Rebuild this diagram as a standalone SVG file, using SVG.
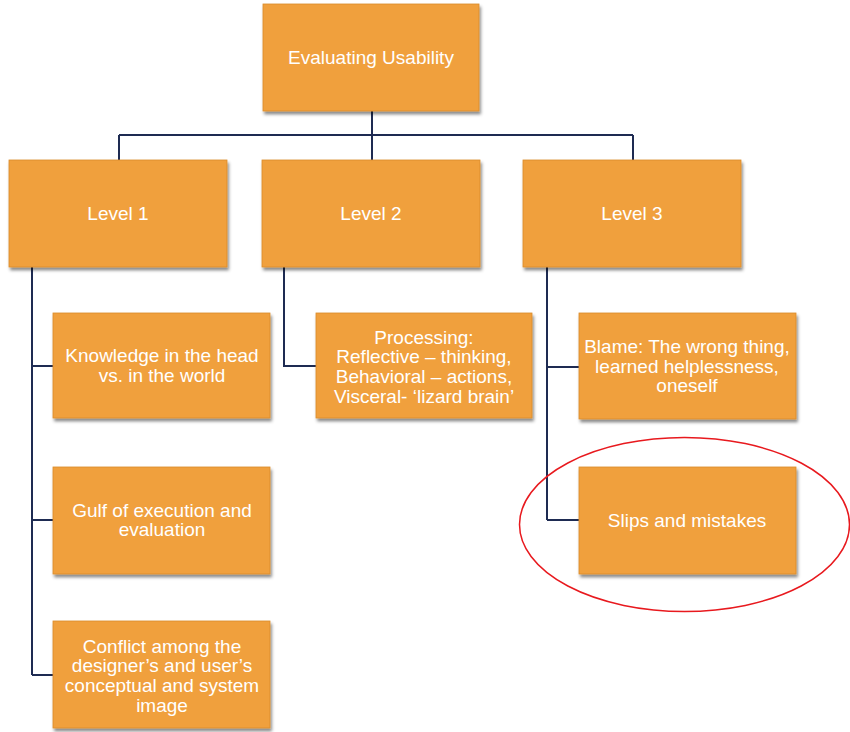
<svg xmlns="http://www.w3.org/2000/svg" width="850" height="732" viewBox="0 0 850 732">
<style>
.box{fill:#F0A03E;stroke:#D98B2A;stroke-width:0.8;filter:url(#sh)}
.t{font-family:"Liberation Sans",Arial,sans-serif;font-size:19px;fill:#FFFFFF;text-anchor:middle}
.c{fill:none;stroke:#1E2B52;stroke-width:2}
</style>
<defs>
<filter id="sh" x="-10%" y="-10%" width="125%" height="130%">
<feDropShadow dx="1.5" dy="3" stdDeviation="1.8" flood-color="#000" flood-opacity="0.45"/>
</filter>
</defs>
<rect width="850" height="732" fill="#FFFFFF"/>
<g id="connectors">
<path class="c" d="M372,111 V135 M119,135 H633 M119,135 V160 M372,135 V160 M633,135 V160"/>
<path class="c" d="M32,267 V675 M32,366 H53 M32,520 H53 M32,675 H53"/>
<path class="c" d="M284,267 V366 H316"/>
<path class="c" d="M547,267 V520 M547,367 H579 M547,520 H579"/>
</g>
<g id="root"><rect class="box" x="263" y="4" width="216" height="107"/><text class="t" x="371" y="64">Evaluating Usability</text></g>
<g id="level1"><rect class="box" x="9" y="160" width="218" height="107"/><text class="t" x="118" y="220">Level 1</text></g>
<g id="level2"><rect class="box" x="262" y="160" width="218" height="107"/><text class="t" x="371" y="220">Level 2</text></g>
<g id="level3"><rect class="box" x="523" y="160" width="218" height="107"/><text class="t" x="632" y="220">Level 3</text></g>
<g id="knowledge"><rect class="box" x="53" y="313" width="217" height="105"/><text class="t" x="162" y="362">Knowledge in the head</text><text class="t" x="162" y="382">vs. in the world</text></g>
<g id="gulf"><rect class="box" x="53" y="467" width="217" height="107"/><text class="t" x="162" y="517">Gulf of execution and</text><text class="t" x="162" y="536">evaluation</text></g>
<g id="conflict"><rect class="box" x="53" y="621" width="217" height="107"/><text class="t" x="162" y="653">Conflict among the</text><text class="t" x="162" y="672">designer’s and user’s</text><text class="t" x="162" y="692">conceptual and system</text><text class="t" x="162" y="712">image</text></g>
<g id="processing"><rect class="box" x="316" y="313" width="216" height="105"/><text class="t" x="424" y="344">Processing:</text><text class="t" x="424" y="363">Reflective – thinking,</text><text class="t" x="424" y="383">Behavioral – actions,</text><text class="t" x="424" y="403">Visceral- ‘lizard brain’</text></g>
<g id="blame"><rect class="box" x="579" y="313" width="217" height="106"/><text class="t" x="687" y="353">Blame: The wrong thing,</text><text class="t" x="687" y="373">learned helplessness,</text><text class="t" x="687" y="392">oneself</text></g>
<g id="slips"><rect class="box" x="579" y="467" width="217" height="107"/><text class="t" x="687" y="527">Slips and mistakes</text></g>
<ellipse id="highlight" cx="684.5" cy="524.5" rx="165" ry="87" fill="none" stroke="#E8191E" stroke-width="1.5"/>
</svg>
